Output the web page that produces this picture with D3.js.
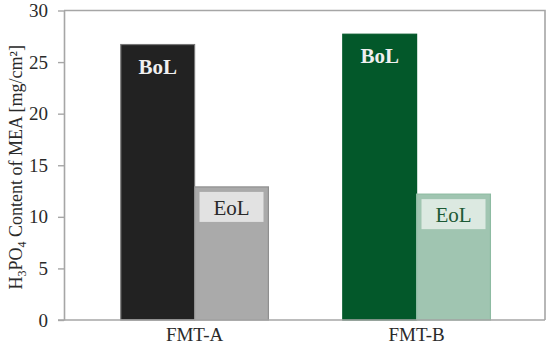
<!DOCTYPE html>
<html><head><meta charset="utf-8">
<script src="https://cdn.jsdelivr.net/npm/d3@7"></script>
<style>body{margin:0;background:#fff}svg{display:block}</style>
</head><body>
<svg id="c" width="550" height="345"></svg>
<script>
const categories = ["FMT-A", "FMT-B"];
const series = ["BoL", "EoL"];
const bolValues = [26.7, 27.7];
const eolValues = [12.9, 12.2];
const yTicks = [0, 5, 10, 15, 20, 25, 30];

const fills = {"FMT-A": ["#222222", "#aaaaaa"], "FMT-B": ["#03582a", "#a0c5b1"]};
const strokes = {"FMT-A": ["#777777", "#8f8f8f"], "FMT-B": ["#03582a", "#8dbba2"]};
const labelText = {"FMT-A": ["#f0f0f0", "#2a2a2a"], "FMT-B": ["#f0f0f0", "#1d5a35"]};
const boxFill = {"FMT-A": "#e2e2e2", "FMT-B": "#dce9e1"};

const font = "'Liberation Serif', 'DejaVu Serif', serif";
const svg = d3.select("#c");
const L = 64, R = 545, T = 10.5, B = 320;

const y = d3.scaleLinear().domain([0, 30]).range([B, T]);
const x = d3.scaleBand().domain(categories).range([83.6, 527.6]).paddingInner(0.335).paddingOuter(0.1675);
const xs = d3.scaleBand().domain(series).range([0, x.bandwidth()]);

// frame (top & right)
svg.append("path").attr("d", `M${L},${T}H${R}V${B}`).attr("fill", "none").attr("stroke", "#a6a6a6").attr("stroke-width", 1.6);

const data = [];
categories.forEach((c, i) => {
  data.push({c, s: "BoL", k: 0, v: bolValues[i]});
  data.push({c, s: "EoL", k: 1, v: eolValues[i]});
});

svg.selectAll("rect.bar").data(data).enter().append("rect").attr("class", "bar")
  .attr("x", d => x(d.c) + xs(d.s))
  .attr("y", d => y(d.v))
  .attr("width", xs.bandwidth())
  .attr("height", d => B - y(d.v))
  .attr("fill", d => fills[d.c][d.k])
  .attr("stroke", d => strokes[d.c][d.k])
  .attr("stroke-width", 1.2);

// BoL labels
data.filter(d => d.s === "BoL").forEach(d => {
  svg.append("text").attr("x", x(d.c) + xs(d.s) + xs.bandwidth() / 2).attr("y", y(d.v) + 29)
    .attr("text-anchor", "middle").attr("font-family", font).attr("font-weight", "bold")
    .attr("font-size", 21).attr("fill", labelText[d.c][d.k]).text(d.s);
});
// EoL labels with boxes
data.filter(d => d.s === "EoL").forEach(d => {
  const cx = x(d.c) + xs(d.s) + xs.bandwidth() / 2;
  svg.append("rect").attr("x", cx - 32).attr("y", y(d.v) + 5).attr("width", 64).attr("height", 30)
    .attr("fill", boxFill[d.c]);
  svg.append("text").attr("x", cx).attr("y", y(d.v) + 28)
    .attr("text-anchor", "middle").attr("font-family", font)
    .attr("font-size", 21).attr("fill", labelText[d.c][d.k]).text(d.s);
});

// y axis
const ya = svg.append("g").attr("transform", `translate(${L},0)`)
  .call(d3.axisLeft(y).tickValues(yTicks).tickSize(6).tickSizeOuter(0).tickPadding(10));
ya.select(".domain").attr("stroke", "#a6a6a6").attr("stroke-width", 1.6);
ya.selectAll(".tick line").attr("stroke", "#a6a6a6").attr("stroke-width", 1.4);
ya.selectAll(".tick text").attr("font-family", font).attr("font-size", 19).attr("fill", "#2a2a2a");

// x axis
const xa = svg.append("g").attr("transform", `translate(0,${B})`)
  .call(d3.axisBottom(x).tickSize(0).tickSizeOuter(0).tickPadding(0));
xa.select(".domain").remove();
svg.append("line").attr("x1", L - 6).attr("x2", R).attr("y1", B).attr("y2", B).attr("stroke", "#a6a6a6").attr("stroke-width", 1.6);
xa.selectAll(".tick text").attr("font-family", font).attr("font-size", 19).attr("fill", "#2a2a2a")
  .attr("dy", null).attr("y", 21);

// y label
const yl = svg.append("text").attr("transform", `translate(22,${(T + B) / 2 + 2}) rotate(-90)`)
  .attr("text-anchor", "middle").attr("font-family", font).attr("font-size", 18).attr("fill", "#2a2a2a");
yl.append("tspan").text("H");
yl.append("tspan").attr("font-size", 12).attr("dy", 4).text("3");
yl.append("tspan").attr("dy", -4).text("PO");
yl.append("tspan").attr("font-size", 12).attr("dy", 4).text("4");
yl.append("tspan").attr("dy", -4).text(" Content of MEA [mg/cm²]");
</script>
</body></html>
